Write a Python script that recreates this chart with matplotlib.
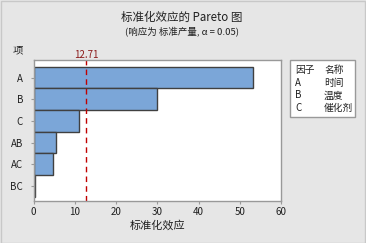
import matplotlib
matplotlib.use("Agg")
import matplotlib.pyplot as plt
from matplotlib.patches import Rectangle

plt.rcParams['font.family'] = ['Noto Sans CJK SC', 'DejaVu Sans']

terms = ["A", "B", "C", "AB", "AC", "BC"]
effects = [53.3, 29.9, 11.1, 5.4, 4.8, 0.45]
critical = 12.71
xticks = [0, 10, 20, 30, 40, 50, 60]
legend_factors = ["A", "B", "C"]
legend_names = ["时间", "温度", "催化剂"]

W, H = 366, 243
fig = plt.figure(figsize=(W / 100, H / 100), dpi=100)
fig.patch.set_facecolor("#E6E6E6")
fig.patches.append(Rectangle((0.5 / W, 0.5 / H), 1 - 2 / W, 1 - 2 / H,
                             transform=fig.transFigure, fill=False,
                             edgecolor="#C8C8C8", linewidth=1.0))

ax = fig.add_axes([33.5 / W, 1 - 201 / H, (281 - 33.5) / W, (201 - 60) / H])
ax.set_facecolor("white")
pos = list(range(len(terms)))
ax.barh(pos, effects, height=1.0, color="#7BA6D8", edgecolor="#404040", linewidth=1.0)
ax.axvline(critical, color="#C00000", linestyle=(0, (4, 3)), linewidth=1.0)
ax.set_ylim(5.7, -0.81)
ax.set_xlim(0, 60)
ax.set_xticks(xticks)
ax.set_yticks(pos)
ax.set_yticklabels(terms)
for s in ax.spines.values():
    s.set_color("#999999")
    s.set_linewidth(1.0)
ax.tick_params(axis="both", colors="#999999", labelcolor="#202020", labelsize=7,
               length=2.5, width=0.8)
ax.tick_params(axis="y", pad=5)
ax.tick_params(axis="x", pad=2)
ax.set_xlabel("标准化效应", fontsize=8, color="#202020", labelpad=2)

ax.text(critical, -0.81, "12.71", transform=ax.transData, ha="center", va="bottom",
        fontsize=7, color="#8B1A1A")
fig.text(18 / W, 1 - 50 / H, "项", ha="center", va="center", fontsize=7.5, color="#202020")

fig.text(182 / W, 1 - 17 / H, "标准化效应的 Pareto 图", ha="center", va="center",
         fontsize=8.3, color="#202020")
fig.text(182 / W, 1 - 32 / H, "(响应为 标准产量, α = 0.05)", ha="center", va="center",
         fontsize=6.8, color="#202020")

lx0, ly0, lx1, ly1 = 290.3, 60.3, 355.3, 116.7
fig.patches.append(Rectangle((lx0 / W, 1 - ly1 / H), (lx1 - lx0) / W, (ly1 - ly0) / H,
                             transform=fig.transFigure, facecolor="white",
                             edgecolor="#999999", linewidth=1.0))
rows = [("因子", "名称")] + list(zip(legend_factors, legend_names))
for i, (f, n) in enumerate(rows):
    y = 1 - (70 + i * 12.7) / H
    fig.text(295 / W, y, f, ha="left", va="center", fontsize=7, color="#202020")
    fig.text(324 / W, y, n, ha="left", va="center", fontsize=7, color="#202020")

fig.savefig("out.png", dpi=100, facecolor=fig.get_facecolor())
